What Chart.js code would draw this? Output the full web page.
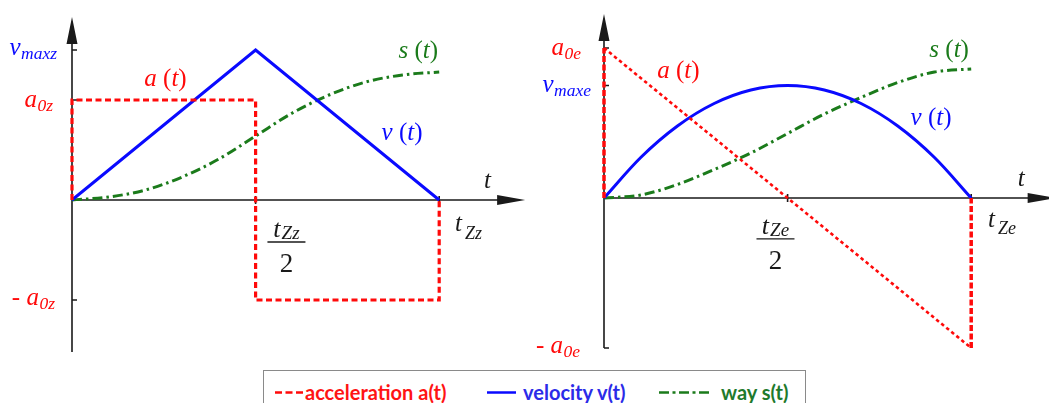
<!DOCTYPE html>
<html>
<head>
<meta charset="utf-8">
<title>Bewegungsprofile a(t), v(t), s(t)</title>
<script src="https://cdn.jsdelivr.net/npm/chart.js@4.4.1/dist/chart.umd.min.js"></script>
<style>
  html, body { margin: 0; padding: 0; background: #fff; }
  body { position: relative; width: 1049px; height: 403px; overflow: hidden; }
  canvas { position: absolute; top: 0; }
  #chartZ { left: 0; }
  #chartE { left: 531px; }
  #legendBox { position: absolute; left: 263px; top: 370px; width: 543px; height: 50px;
               border: 1.5px solid #8a8a8a; box-sizing: border-box; }
  .lg-text { position: absolute; font-family: Lato, "Open Sans", sans-serif; font-weight: 700;
             font-size: 20px; line-height: 20px; white-space: nowrap; }
  .lg-line { position: absolute; }
</style>
</head>
<body>
<canvas id="chartZ" width="531" height="360"></canvas>
<canvas id="chartE" width="518" height="360"></canvas>
<div id="legendBox"></div>
<div id="legend"></div>
<script>
// ---- Profile "z": piecewise constant acceleration (t in units of tZz, values in units of a0z)
const tAccelZ = [0, 0, 0.5, 0.5, 1, 1];
const accelZ  = [0, 1, 1, -1, -1, 0];
const tVelZ   = [0, 0.5, 1];
const velZ    = [0, 1.5, 0];
const tWayZ   = [0, 0.1, 0.2, 0.3, 0.4, 0.5, 0.6, 0.7, 0.8, 0.9, 1];
const wayZ    = [0, 0.03, 0.10, 0.23, 0.41, 0.64, 0.87, 1.05, 1.18, 1.25, 1.28];

// ---- Profile "e": linearly falling acceleration (t in units of tZe, values in units of a0e)
const tAccelE = [0, 0, 1, 1];
const accelE  = [0, 1, -1, 0];
const tVelE   = [0, 0.1, 0.2, 0.3, 0.4, 0.5, 0.6, 0.7, 0.8, 0.9, 1];
const velE    = [0, 0.27, 0.48, 0.63, 0.72, 0.75, 0.72, 0.63, 0.48, 0.27, 0];
const tWayE   = [0, 0.1, 0.2, 0.3, 0.4, 0.5, 0.6, 0.7, 0.8, 0.9, 1];
const wayE    = [0, 0.02, 0.09, 0.19, 0.30, 0.43, 0.56, 0.67, 0.77, 0.84, 0.86];

// ---- Axis marks and their names
const yTicksZ     = [1.5, 1, -1];
const yTickNamesZ = ['v_maxz', 'a_0z', '- a_0z'];
const xTicksZ     = [0.5, 1];
const xTickNamesZ = ['t_Zz', 't_Zz'];      // at tZz/2 (as a fraction) and at tZz
const yTicksE     = [1, 0.75, -1];
const yTickNamesE = ['a_0e', 'v_maxe', '- a_0e'];
const xTicksE     = [0.5, 1];
const xTickNamesE = ['t_Ze', 't_Ze'];
const halfDenominator = '2';
const timeAxisName = 't';

// ---- Series names
const curveNames  = ['a (t)', 'v (t)', 's (t)'];
const seriesNames = ['acceleration a(t)', 'velocity v(t)', 'way s(t)'];

const RED = '#ff0a0a', BLUE = '#0a0aff', GREEN = '#1b7b1b', INK = '#1a1a1a';
const SERIF = '"Liberation Serif", "Times New Roman", serif';

const pts = (ts, vs) => ts.map((t, i) => ({ x: t, y: vs[i] }));

// Split "v_maxz" into main text and subscript; letters italic, other glyphs upright
function parseLabel(s) {
  const i = s.indexOf('_');
  const main = i < 0 ? s : s.slice(0, i);
  const sub = i < 0 ? '' : s.slice(i + 1);
  const runs = [];
  for (const ch of main) {
    const it = /[A-Za-z]/.test(ch);
    const last = runs[runs.length - 1];
    if (last && last.it === it) last.txt += ch; else runs.push({ txt: ch, it, sub: false });
  }
  if (sub) runs.push({ txt: sub, it: true, sub: true });
  return runs;
}
function fontOf(r, o) {
  return (r.it ? 'italic ' : 'normal ') + (r.sub ? o.subSize : o.size) + 'px ' + SERIF;
}
function drawMath(ctx, s, x, y, opt) {
  const o = Object.assign({ size: 25, subSize: 17.5, subDy: 4, subGap: 0.5, align: 'left', upright: false }, opt);
  const runs = parseLabel(s);
  if (o.upright) runs.forEach(r => r.it = false);
  let w = 0;
  runs.forEach(r => { ctx.font = fontOf(r, o); r.w = ctx.measureText(r.txt).width; w += r.w + (r.sub ? o.subGap : 0); });
  let cx = o.align === 'right' ? x - w : o.align === 'center' ? x - w / 2 : x;
  ctx.fillStyle = o.color;
  ctx.textAlign = 'left';
  ctx.textBaseline = 'alphabetic';
  runs.forEach(r => {
    if (r.sub) cx += o.subGap;
    ctx.font = fontOf(r, o);
    ctx.fillText(r.txt, cx, y + (r.sub ? o.subDy : 0));
    cx += r.w;
  });
}

// Axes through the origin with arrowheads, tick marks and the math labels
const motionAxes = {
  id: 'motionAxes',
  beforeDatasetsDraw(chart, _args, o) {
    const { ctx, scales: { x, y } } = chart;
    const X0 = x.getPixelForValue(0), Y0 = y.getPixelForValue(0);
    const yTip = y.getPixelForValue(o.yTo), yEnd = y.getPixelForValue(o.yFrom);
    const xTip = x.getPixelForValue(o.xTo);
    ctx.save();
    ctx.strokeStyle = INK; ctx.fillStyle = INK; ctx.lineWidth = 1.6;
    ctx.beginPath();
    ctx.moveTo(X0, yEnd); ctx.lineTo(X0, yTip + 20);
    ctx.moveTo(X0, Y0); ctx.lineTo(xTip - 20, Y0);
    o.yTicks.forEach(v => { const py = y.getPixelForValue(v); ctx.moveTo(X0, py); ctx.lineTo(X0 + 5, py); });
    o.xTicks.forEach(v => { const px = x.getPixelForValue(v); ctx.moveTo(px, Y0 - 4); ctx.lineTo(px, Y0 + 4); });
    ctx.stroke();
    ctx.beginPath();
    ctx.moveTo(X0, yTip); ctx.lineTo(X0 - 5.5, yTip + 27); ctx.lineTo(X0 + 5.5, yTip + 27); ctx.closePath();
    ctx.moveTo(xTip, Y0); ctx.lineTo(xTip - 28, Y0 - 5); ctx.lineTo(xTip - 28, Y0 + 5); ctx.closePath();
    ctx.fill();
    ctx.restore();
  },
  afterDatasetsDraw(chart, _args, o) {
    const { ctx, scales: { x, y } } = chart;
    const X0 = x.getPixelForValue(0);
    ctx.save();
    // names of the y marks, right-aligned left of the axis
    o.yLabels.forEach(l => {
      drawMath(ctx, l.name, X0 + l.dx, y.getPixelForValue(l.v) + l.dy, { color: l.color, align: 'right' });
    });
    // free labels placed in data coordinates
    o.texts.forEach(l => {
      drawMath(ctx, l.name, x.getPixelForValue(l.t), y.getPixelForValue(l.y), l);
    });
    // tZ / 2 fraction below the half-time mark
    const f = o.fraction;
    const fx = x.getPixelForValue(f.t), fy = y.getPixelForValue(f.y);
    drawMath(ctx, f.num, fx, fy - 5, { color: INK, align: 'center', size: 26, subSize: 19, subDy: f.subDy, subGap: 1 });
    ctx.strokeStyle = INK; ctx.lineWidth = 1.3;
    ctx.beginPath(); ctx.moveTo(fx - 19, fy); ctx.lineTo(fx + 19, fy); ctx.stroke();
    drawMath(ctx, f.den, fx, fy + 30, { color: INK, align: 'center', size: 27, upright: true });
    ctx.restore();
  }
};

function makeChart(id, cfg) {
  return new Chart(document.getElementById(id), {
    type: 'scatter',
    data: {
      datasets: [
        Object.assign({
          label: seriesNames[0], data: pts(cfg.tA, cfg.a), showLine: true, clip: false,
          borderColor: RED, borderWidth: 3.2, borderDash: [6, 3.5], pointRadius: 0, tension: 0
        }, cfg.accelStyle || {}),
        {
          label: seriesNames[1], data: pts(cfg.tV, cfg.v), showLine: true, clip: false,
          borderColor: BLUE, borderWidth: 3, pointRadius: 0,
          cubicInterpolationMode: cfg.smoothV ? 'monotone' : 'default', tension: 0
        },
        {
          label: seriesNames[2], data: pts(cfg.tS, cfg.s), showLine: true, clip: false,
          borderColor: GREEN, borderWidth: 3, borderDash: [10, 4, 2.5, 4], pointRadius: 0,
          cubicInterpolationMode: 'monotone'
        }
      ]
    },
    options: {
      responsive: false, animation: false, events: [],
      layout: { padding: { left: cfg.padLeft, right: 0, top: 0, bottom: 0 } },
      scales: {
        x: { type: 'linear', min: 0, max: cfg.xMax, display: false },
        y: { type: 'linear', min: cfg.yMin, max: cfg.yMax, display: false }
      },
      plugins: { legend: { display: false }, tooltip: { enabled: false }, motionAxes: cfg.marks }
    },
    plugins: [motionAxes]
  });
}

function buildCharts() {
  // Left panel
  makeChart('chartZ', {
    tA: tAccelZ, a: accelZ, tV: tVelZ, v: velZ, tS: tWayZ, s: wayZ, smoothV: false,
    padLeft: 72, xMax: 1.25, yMin: -1.6, yMax: 2.0,
    marks: {
      yFrom: -1.52, yTo: 1.83, xTo: 1.234, yTicks: yTicksZ, xTicks: xTicksZ,
      yLabels: [
        { v: yTicksZ[0], name: yTickNamesZ[0], color: BLUE, dx: -15, dy: 5 },
        { v: yTicksZ[1], name: yTickNamesZ[1], color: RED,  dx: -19, dy: 7 },
        { v: yTicksZ[2], name: yTickNamesZ[2], color: RED,  dx: -17, dy: 5 }
      ],
      texts: [
        { name: curveNames[0], color: RED,   t: 0.197, y: 1.14 },
        { name: curveNames[1], color: BLUE,  t: 0.843, y: 0.60 },
        { name: curveNames[2], color: GREEN, t: 0.889, y: 1.42 },
        { name: timeAxisName, color: INK,    t: 1.122, y: 0.12 },
        { name: xTickNamesZ[1], color: INK,  t: 1.043, y: -0.31, subSize: 18, subDy: 8, subGap: 3 }
      ],
      fraction: { num: xTickNamesZ[0], den: halfDenominator, t: 0.584, y: -0.42, subDy: 2 }
    }
  });

  // Right panel
  makeChart('chartE', {
    tA: tAccelE, a: accelE, tV: tVelE, v: velE, tS: tWayE, s: wayE, smoothV: true,
    padLeft: 73, xMax: 445 / 367.2, yMin: -1.08, yMax: 1.32,
    accelStyle: {
      segment: {
        borderDash: c => c.p0.parsed.x === c.p1.parsed.x ? [6, 2.5] : [3.5, 3],
        borderWidth: c => c.p0.parsed.x === c.p1.parsed.x ? 3.5 : 2.6
      }
    },
    marks: {
      yFrom: -1.0, yTo: 1.227, xTo: 1.23, yTicks: yTicksE, xTicks: xTicksE,
      yLabels: [
        { v: yTicksE[0], name: yTickNamesE[0], color: RED,  dx: -23, dy: 7 },
        { v: yTicksE[1], name: yTickNamesE[1], color: BLUE, dx: -13, dy: 6 },
        { v: yTicksE[2], name: yTickNamesE[2], color: RED,  dx: -24, dy: 5 }
      ],
      texts: [
        { name: curveNames[0], color: RED,   t: 0.145, y: 0.80 },
        { name: curveNames[1], color: BLUE,  t: 0.835, y: 0.487 },
        { name: curveNames[2], color: GREEN, t: 0.886, y: 0.94 },
        { name: timeAxisName, color: INK,    t: 1.127, y: 0.08 },
        { name: xTickNamesE[1], color: INK,  t: 1.046, y: -0.193, subSize: 18, subDy: 7, subGap: 3 }
      ],
      fraction: { num: xTickNamesE[0], den: halfDenominator, t: 0.467, y: -0.273, subDy: 2 }
    }
  });
}

// Legend below both panels
const legendItems = [
  { name: seriesNames[0], stroke: RED,   text: '#ff1414', dash: '7 3.5',        x: 275, w: 29, tx: 305 },
  { name: seriesNames[1], stroke: BLUE,  text: '#2b2be8', dash: '',             x: 487, w: 29, tx: 523 },
  { name: seriesNames[2], stroke: GREEN, text: '#1f7a2c', dash: '10 3.5 3 3.5', x: 659, w: 52, tx: 721 }
];
document.getElementById('legend').innerHTML = legendItems.map(it =>
  `<svg class="lg-line" style="left:${it.x}px;top:389px" width="${it.w}" height="7">` +
  `<line x1="0" y1="3.5" x2="${it.w}" y2="3.5" stroke="${it.stroke}" stroke-width="2.5"` +
  (it.dash ? ` stroke-dasharray="${it.dash}"` : '') + `/></svg>` +
  `<span class="lg-text" style="left:${it.tx}px;top:382px;color:${it.text}">${it.name}</span>`
).join('');

// draw once the serif faces used on the canvas are ready
const faces = ['italic 25px "Liberation Serif"', 'normal 25px "Liberation Serif"', 'italic 18px "Liberation Serif"'];
Promise.all(faces.map(f => document.fonts.load(f).catch(() => null)))
  .then(buildCharts, buildCharts);
</script>
</body>
</html>
